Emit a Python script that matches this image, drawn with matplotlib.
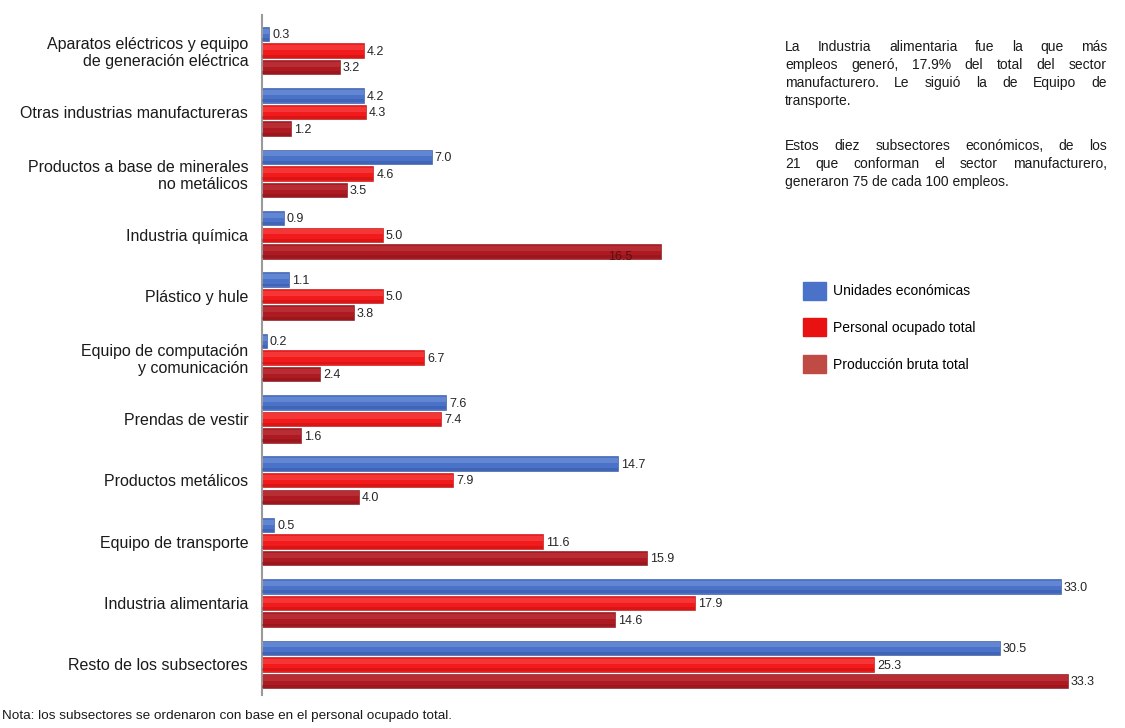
import numpy as np
import matplotlib
matplotlib.use("Agg")
import matplotlib.pyplot as plt
from matplotlib.patches import Patch

plt.rcParams['font.family'] = ['Liberation Sans', 'DejaVu Sans']

categorias = ['Aparatos eléctricos y equipo\nde generación eléctrica',
              'Otras industrias manufactureras',
              'Productos a base de minerales\nno metálicos',
              'Industria química',
              'Plástico y hule',
              'Equipo de computación\ny comunicación',
              'Prendas de vestir',
              'Productos metálicos',
              'Equipo de transporte',
              'Industria alimentaria',
              'Resto de los subsectores']
unidades = [0.3, 4.2, 7.0, 0.9, 1.1, 0.2, 7.6, 14.7, 0.5, 33.0, 30.5]
personal = [4.2, 4.3, 4.6, 5.0, 5.0, 6.7, 7.4, 7.9, 11.6, 17.9, 25.3]
produccion = [3.2, 1.2, 3.5, 16.5, 3.8, 2.4, 1.6, 4.0, 15.9, 14.6, 33.3]

series = [('Unidades económicas', unidades, '#4a72c8', '#9db6ea', '#2f4f99', '#4a72c8'),
          ('Personal ocupado total', personal, '#f21a1a', '#ff7a7a', '#b00e0e', '#e81212'),
          ('Producción bruta total', produccion, '#ad1a22', '#d4585e', '#7a0f14', '#c04a44')]

parrafos = [['La Industria alimentaria fue la que más',
             'empleos generó, 17.9% del total del sector',
             'manufacturero. Le siguió la de Equipo de',
             'transporte.'],
            ['Estos diez subsectores económicos, de los',
             '21 que conforman el sector manufacturero,',
             'generaron 75 de cada 100 empleos.']]

W, H = 1125, 728
fig = plt.figure(figsize=(11.25, 7.28), dpi=100)
ax = fig.add_axes([0.233, 0.0453, 0.767, 0.934])

y = np.arange(len(categorias))
alto = 0.235
offsets = [-0.27, 0.0, 0.27]

for (nombre, vals, col, luz, sombra, _), off in zip(series, offsets):
    pos = y + off
    ax.barh(pos, vals, height=alto, color=col, edgecolor=sombra, linewidth=0.4, zorder=2)
    # efecto cilindrico: banda clara arriba, sombra abajo
    ax.barh(pos - alto * 0.2, vals, height=alto * 0.35, color=luz, alpha=0.3,
            linewidth=0, zorder=3)
    ax.barh(pos + alto * 0.38, vals, height=alto * 0.2, color=sombra, alpha=0.35,
            linewidth=0, zorder=3)
    for i, (p, v) in enumerate(zip(pos, vals)):
        if nombre == 'Producción bruta total' and i == 3:
            ax.text(v - 1.2, p + 0.1, f'{v:.1f}', fontsize=9, color='#5a1010',
                    va='center', ha='right', zorder=4)
        else:
            ax.text(v + 0.12, p + 0.02, f'{v:.1f}', fontsize=9, color='#262626',
                    va='center', ha='left', zorder=4)

ax.set_xlim(0, 35.66)
ax.set_ylim(10.5, -0.58)
ax.set_yticks(y)
ax.set_yticklabels(categorias, fontsize=11.5, color='#1a1a1a', linespacing=1.15)
ax.tick_params(axis='y', length=0, pad=10)
ax.set_xticks([])
for s in ['top', 'right', 'bottom']:
    ax.spines[s].set_visible(False)
ax.spines['left'].set_color('#9a9a9a')
ax.spines['left'].set_linewidth(1.5)

handles = [Patch(facecolor=c, edgecolor=c) for _, _, _, _, _, c in series]
fig.legend(handles, [s[0] for s in series], loc='upper left',
           bbox_to_anchor=(0.703, 0.630), frameon=False, fontsize=10,
           handlelength=1.6, handleheight=1.6, labelspacing=1.35, handletextpad=0.55)

# texto justificado a la derecha
renderer = fig.canvas.get_renderer()
x0, x1 = 785, 1107
yc = 47
for parrafo in parrafos:
    for k, linea in enumerate(parrafo):
        if k == len(parrafo) - 1:
            fig.text(x0 / W, 1 - yc / H, linea, fontsize=10, va='center', ha='left',
                     color='#1a1a1a')
        else:
            palabras = linea.split()
            anchos = []
            for p in palabras:
                t = fig.text(0, 0, p, fontsize=10)
                anchos.append(t.get_window_extent(renderer).width)
                t.remove()
            hueco = (x1 - x0 - sum(anchos)) / (len(palabras) - 1)
            xp = x0
            for p, a in zip(palabras, anchos):
                fig.text(xp / W, 1 - yc / H, p, fontsize=10, va='center', ha='left',
                         color='#1a1a1a')
                xp += a + hueco
        yc += 18
    yc += 27

fig.text(0.002, 0.008, 'Nota: los subsectores se ordenaron con base en el personal ocupado total.',
         fontsize=9.7, color='#1a1a1a', va='bottom', ha='left')

fig.savefig('out.png', dpi=100, facecolor='white')
